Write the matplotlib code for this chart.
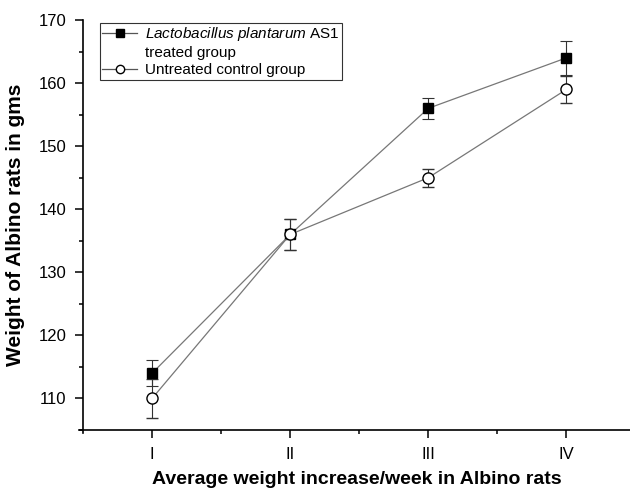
import matplotlib
matplotlib.use("Agg")
import matplotlib.pyplot as plt
from matplotlib.lines import Line2D
from matplotlib.ticker import MultipleLocator

plt.rcParams["font.family"] = ["Liberation Sans", "DejaVu Sans"]
plt.rcParams["mathtext.fontset"] = "custom"
plt.rcParams["mathtext.it"] = "Liberation Sans:italic"
plt.rcParams["mathtext.rm"] = "Liberation Sans"

weeks = ["I", "II", "III", "IV"]
treated = [114, 136, 156, 164]
treated_err = [2.1, 2.5, 1.7, 2.7]
control = [110, 136, 145, 159]
control_err = [3.1, 2.5, 1.4, 2.2]

x = list(range(1, len(weeks) + 1))

fig = plt.figure(figsize=(6.3, 4.91), dpi=100)
ax = fig.add_axes([83 / 630, 61 / 491, 547 / 630, 410 / 491])

ax.errorbar(x, treated, yerr=treated_err, color="#777777", lw=0.9,
            marker="s", ms=7, mfc="black", mec="black",
            ecolor="#333333", elinewidth=0.8, capsize=4, capthick=0.8)
ax.errorbar(x, control, yerr=control_err, color="#777777", lw=0.9,
            marker="o", ms=8, mfc="white", mec="black", mew=1.0,
            ecolor="#333333", elinewidth=0.8, capsize=4, capthick=0.8)

ax.set_xlim(0.5, 4.46)
ax.set_ylim(105, 170)
ax.set_xticks(x)
ax.set_xticklabels(weeks)
ax.xaxis.set_minor_locator(plt.FixedLocator([1.5, 2.5, 3.5]))
ax.set_yticks([110, 120, 130, 140, 150, 160, 170])
ax.yaxis.set_minor_locator(MultipleLocator(5))

for side in ["top", "right"]:
    ax.spines[side].set_visible(False)
ax.spines["left"].set_bounds(104.5, 170)
ax.spines["bottom"].set_bounds(0.47, 4.46)
ax.spines["left"].set_linewidth(1.2)
ax.spines["bottom"].set_linewidth(1.2)
ax.tick_params(which="major", direction="out", length=6, width=1.1, labelsize=12, pad=6)
ax.tick_params(which="minor", direction="out", length=3, width=1.1)

ax.set_xlabel("Average weight increase/week in Albino rats", fontsize=14,
              fontweight="bold", labelpad=7)
ax.set_ylabel("Weight of Albino rats in gms", fontsize=15,
              fontweight="bold", labelpad=10)

handles = [
    Line2D([], [], color="#555555", lw=0.9, marker="s", ms=6, mfc="black", mec="black"),
    Line2D([], [], color="none"),
    Line2D([], [], color="#555555", lw=0.9, marker="o", ms=6, mfc="white", mec="black"),
]
labels = ["$\\it{Lactobacillus\\ plantarum}$ AS1", "treated group", "Untreated control group"]
leg = ax.legend(handles, labels, loc="upper left", bbox_to_anchor=(0.031, 0.993),
                fontsize=11, frameon=True, fancybox=False, edgecolor="black",
                handlelength=2.3, handletextpad=0.5, borderpad=0.15,
                labelspacing=0.2, borderaxespad=0)
leg.get_frame().set_linewidth(0.8)

fig.savefig("out.png", dpi=100)
